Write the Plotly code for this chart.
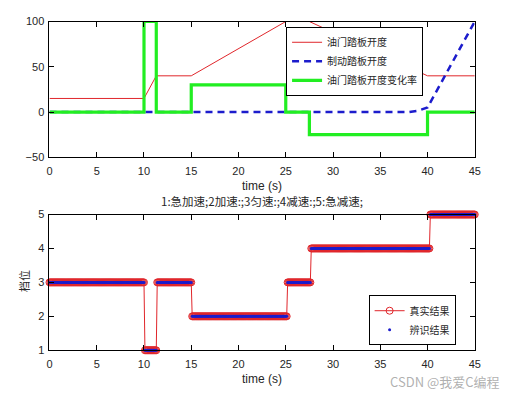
import numpy as np
import plotly.graph_objects as go

# ---- top panel data ----
throttle_t = [0, 10, 11.3, 15, 25, 27.5, 40, 45]
throttle_v = [15, 15, 40, 40, 100, 100, 40, 40]
brake_t = [0, 38, 39, 40, 45]
brake_v = [0, 0, 1.5, 5, 100]
rate_t = [0, 10, 11.3, 15, 25, 27.5, 40, 45]
rate_v = [0, 100, 0, 30, 0, -25, 0, 0]

# ---- bottom panel data ----
seg_start = [0, 10.1, 11.4, 15.1, 25.2, 27.7, 40.3]
seg_gear = [3, 1, 3, 2, 3, 4, 5]
t_sample = np.round(np.arange(0, 45.0001, 0.1), 1)
gear_true = np.array(seg_gear)[np.searchsorted(seg_start, t_sample, side="right") - 1]
gear_ident = gear_true.copy()

x_ticks = [0, 5, 10, 15, 20, 25, 30, 35, 40, 45]
top_yticks = [-50, 0, 50, 100]
bot_yticks = [1, 2, 3, 4, 5]

names_top = ["油门踏板开度", "制动踏板开度", "油门踏板开度变化率"]
names_bot = ["真实结果", "辨识结果"]
title_bot = "1:急加速;2加速:;3匀速:;4减速:;5:急减速;"

W, H = 525, 397
xdom = [47.3 / W, 480 / W]
top_dom = [1 - 156 / H, 1 - 16 / H]
bot_dom = [1 - 355 / H, 1 - 215 / H]

fig = go.Figure()
fig.add_trace(go.Scatter(x=throttle_t, y=throttle_v, mode="lines", name=names_top[0],
                         line=dict(color="#e0262b", width=1), xaxis="x", yaxis="y", legend="legend"))
fig.add_trace(go.Scatter(x=brake_t, y=brake_v, mode="lines", name=names_top[1],
                         line=dict(color="#1c1ccc", width=2.5, dash="7px,5px"), xaxis="x", yaxis="y", legend="legend"))
fig.add_trace(go.Scatter(x=rate_t, y=rate_v, mode="lines", name=names_top[2], line_shape="hv",
                         line=dict(color="#22ee22", width=3.2), xaxis="x", yaxis="y", legend="legend"))

fig.add_trace(go.Scatter(x=t_sample, y=gear_true, mode="lines+markers", name=names_bot[0],
                         line=dict(color="#e0262b", width=1),
                         marker=dict(symbol="circle-open", size=7, color="#e0262b", line=dict(width=1)),
                         xaxis="x2", yaxis="y2", legend="legend2", cliponaxis=False))
fig.add_trace(go.Scatter(x=t_sample, y=gear_ident, mode="markers", name=names_bot[1],
                         marker=dict(symbol="circle", size=3, color="#1c1ccc"),
                         xaxis="x2", yaxis="y2", legend="legend2", cliponaxis=False))

tickfont = dict(family="Liberation Sans, Arial", size=11, color="#262626")
axis_common = dict(showline=True, linecolor="black", linewidth=1, mirror="ticks", ticks="inside",
                   ticklen=5, tickcolor="black", showgrid=False, zeroline=False, tickfont=tickfont)

fig.update_layout(
    width=W, height=H, margin=dict(l=0, r=0, t=0, b=0),
    paper_bgcolor="white", plot_bgcolor="white",
    xaxis=dict(domain=xdom, range=[0, 45], tickvals=x_ticks, anchor="y", ticklabelstandoff=4, **axis_common),
    yaxis=dict(domain=top_dom, range=[-50, 100], tickvals=top_yticks, anchor="x", ticklabelstandoff=2, **axis_common),
    xaxis2=dict(domain=xdom, range=[0, 45], tickvals=x_ticks, anchor="y2", ticklabelstandoff=4, **axis_common),
    yaxis2=dict(domain=bot_dom, range=[1, 5], tickvals=bot_yticks, anchor="x2", ticklabelstandoff=2, **axis_common),
    legend=dict(x=288 / W, y=1 - 57 / H, xanchor="left", yanchor="middle", bgcolor="white",
                bordercolor="black", borderwidth=1,
                font=dict(family="Noto Sans CJK SC", size=10, color="#262626"),
                tracegroupgap=0, itemwidth=30),
    legend2=dict(x=372 / W, y=1 - 324 / H, xanchor="left", yanchor="middle", bgcolor="white",
                 bordercolor="black", borderwidth=1,
                 font=dict(family="Noto Sans CJK SC", size=10, color="#262626"),
                 tracegroupgap=0, itemwidth=30),
    showlegend=True,
)

annots = [
    dict(text="time (s)", x=(47.3 + 480) / 2 / W, y=1 - 186 / H),
    dict(text="time (s)", x=(47.3 + 480) / 2 / W, y=1 - 385 / H),
    dict(text=title_bot, x=(47.3 + 480) / 2 / W, y=1 - 201 / H, font=dict(family="Noto Sans CJK SC, Liberation Sans", size=11.5, color="#262626")),
    dict(text="档位", x=22 / W, y=1 - 284 / H, textangle=-90, font=dict(family="Noto Sans CJK SC", size=11, color="#262626")),
    dict(text="CSDN @我爱C编程", x=450 / W, y=1 - 387.5 / H, font=dict(family="Noto Sans CJK SC, Liberation Sans", size=13, color="rgba(150,150,150,0.75)")),
]
for a in annots:
    d = dict(xref="paper", yref="paper", showarrow=False, xanchor="center", yanchor="middle",
             font=dict(family="Liberation Sans, Arial", size=12, color="#262626"))
    d.update(a)
    fig.add_annotation(**d)

fig.write_html("out.html", config={"displayModeBar": False},
               post_script="document.body.style.margin='0';document.body.style.overflow='hidden';")
